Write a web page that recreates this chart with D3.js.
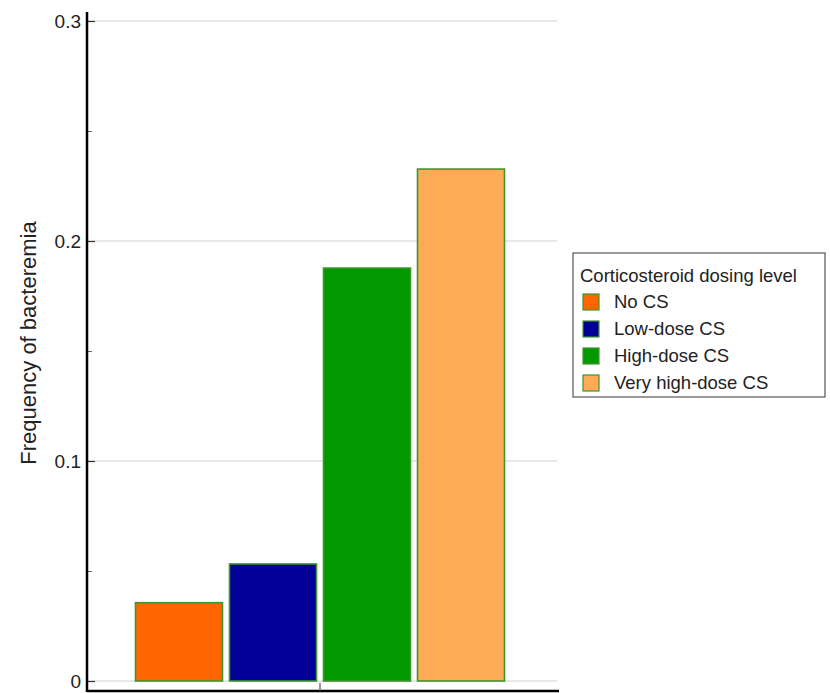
<!DOCTYPE html>
<html><head><meta charset="utf-8">
<script src="https://cdn.jsdelivr.net/npm/d3@7"></script>
<style>body{margin:0;background:#fff;} svg{display:block;font-family:"Liberation Sans",Arial,sans-serif;}</style>
</head><body>
<svg id="chart" width="830" height="693"></svg>
<script>
const categories = ["No CS", "Low-dose CS", "High-dose CS", "Very high-dose CS"];
const values = [0.0356, 0.0532, 0.1877, 0.2327];
const colors = ["#ff6600", "#000099", "#009900", "#ffaa55"];
const yTicks = [0, 0.1, 0.2, 0.3];
const yMinorTicks = [0.05, 0.15, 0.25];
const legendTitle = "Corticosteroid dosing level";
const yLabel = "Frequency of bacteremia";

const svg = d3.select("#chart");
const y = d3.scaleLinear().domain([0, 0.3]).range([681, 21]);
const x = d3.scaleBand().domain(categories).range([132, 508]).paddingInner(0.0745).paddingOuter(0.0372);
const axisX = 87, plotRight = 557;

// gridlines
svg.append("g").selectAll("line").data(yTicks).join("line")
  .attr("x1", axisX).attr("x2", plotRight)
  .attr("y1", d => y(d)).attr("y2", d => y(d))
  .attr("stroke", "#e8e8e8").attr("stroke-width", 2);

// bars
svg.append("g").selectAll("rect").data(categories).join("rect")
  .attr("x", d => x(d)).attr("width", x.bandwidth())
  .attr("y", (d, i) => y(values[i])).attr("height", (d, i) => y(0) - y(values[i]))
  .attr("fill", (d, i) => colors[i])
  .attr("stroke", "#3f962c").attr("stroke-width", 1.6);

// y axis
const yAxis = d3.axisRight(y).tickValues(yTicks).tickSize(8).tickFormat(d3.format("~g"));
const gy = svg.append("g").attr("transform", `translate(${axisX},0)`).call(yAxis);
gy.select(".domain").remove();
gy.selectAll(".tick line").attr("stroke", "#333").attr("stroke-width", 1.2);
gy.selectAll(".tick text").attr("x", -6).attr("text-anchor", "end").attr("dy", "0.35em")
  .attr("font-size", 19).attr("fill", "#222").attr("font-family", "Liberation Sans, Arial, sans-serif");
const gyMinor = svg.append("g").attr("transform", `translate(${axisX},0)`)
  .call(d3.axisRight(y).tickValues(yMinorTicks).tickSize(5).tickFormat(""));
gyMinor.select(".domain").remove();
gyMinor.selectAll(".tick line").attr("stroke", "#666").attr("stroke-width", 1);
svg.append("line").attr("x1", axisX).attr("x2", axisX).attr("y1", 12).attr("y2", 692)
  .attr("stroke", "#000").attr("stroke-width", 2.5);

// x axis line
svg.append("line").attr("x1", axisX).attr("x2", 559).attr("y1", 691).attr("y2", 691)
  .attr("stroke", "#000").attr("stroke-width", 2.5);
const xMid = (x(categories[1]) + x.bandwidth() + x(categories[2])) / 2;
svg.append("line").attr("x1", xMid).attr("x2", xMid).attr("y1", 683).attr("y2", 691)
  .attr("stroke", "#555").attr("stroke-width", 1.2);

// y label
svg.append("text").attr("transform", `translate(36,343) rotate(-90)`)
  .attr("text-anchor", "middle").attr("font-size", 22).attr("fill", "#222").text(yLabel);

// legend
const lg = svg.append("g");
lg.append("rect").attr("x", 573).attr("y", 253).attr("width", 252).attr("height", 144)
  .attr("fill", "#fff").attr("stroke", "#555").attr("stroke-width", 1.2);
lg.append("text").attr("x", 580).attr("y", 282).attr("font-size", 18.5).attr("fill", "#222").text(legendTitle);
const items = lg.selectAll("g.item").data(categories).join("g").attr("class", "item")
  .attr("transform", (d, i) => `translate(0,${302 + i * 27})`);
items.append("rect").attr("x", 583).attr("y", -8).attr("width", 16).attr("height", 16)
  .attr("fill", (d, i) => colors[i]).attr("stroke", "#3f962c").attr("stroke-width", 1.2);
items.append("text").attr("x", 614).attr("y", 0).attr("dy", "0.35em").attr("font-size", 18.5)
  .attr("fill", "#222").text(d => d);
</script>
</body></html>
